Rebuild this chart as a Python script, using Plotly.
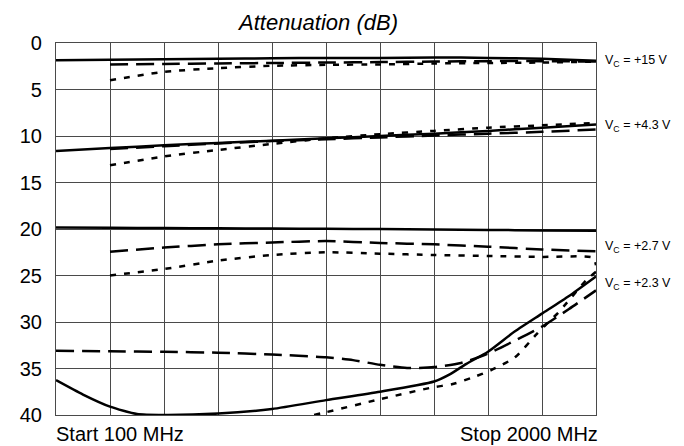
import plotly.graph_objects as go

# grid position (0..10 divisions) -> MHz, start 100 stop 2000
def mhz(g):
    return [100 + 190 * v for v in g]

G11 = [0, 1, 2, 3, 4, 5, 6, 7, 8, 9, 10]
G10 = [1, 2, 3, 4, 5, 6, 7, 8, 9, 10]

# Vc = +15 V
v15_solid = [1.85, 1.8, 1.75, 1.7, 1.65, 1.6, 1.6, 1.55, 1.6, 1.7, 1.9]
v15_long = [2.3, 2.25, 2.2, 2.15, 2.1, 2.05, 2.0, 1.95, 1.95, 2.0]
v15_short = [4.0, 3.1, 2.7, 2.45, 2.35, 2.3, 2.2, 2.15, 2.1, 2.0]

# Vc = +4.3 V
v43_solid = [11.6, 11.3, 11.0, 10.75, 10.5, 10.25, 10.0, 9.75, 9.45, 9.1, 8.75]
v43_long = [11.4, 11.1, 10.8, 10.55, 10.35, 10.15, 9.95, 9.75, 9.55, 9.3]
v43_short = [13.15, 12.2, 11.5, 10.85, 10.25, 9.8, 9.45, 9.1, 8.85, 8.6]

# Vc = +2.7 V
v27_solid = [19.85, 19.87, 19.9, 19.92, 19.95, 19.98, 20.0, 20.05, 20.1, 20.15, 20.2]
v27_long = [22.45, 22.0, 21.65, 21.45, 21.3, 21.5, 21.65, 21.9, 22.2, 22.4]
v27_short_g = [1, 2, 3, 4, 5, 6, 7, 8, 9, 9.95, 10]
v27_short = [25.0, 24.3, 23.4, 22.8, 22.5, 22.65, 22.8, 22.9, 23.0, 23.1, 23.9]

# Vc = +2.3 V
v23_solid_g = [0, 0.5, 1, 1.5, 2, 3, 4, 5, 6, 7, 7.3, 7.6, 8, 8.5, 9, 9.5, 10]
v23_solid = [36.25, 37.8, 39.1, 39.9, 40.0, 39.85, 39.35, 38.4, 37.5, 36.4, 35.6, 34.5,
             33.2, 31.0, 29.1, 27.2, 25.1]
v23_long_g = [0, 1, 2, 3, 4, 5, 5.5, 6, 6.5, 7, 7.5, 8, 8.5, 9, 9.5, 10]
v23_long = [33.1, 33.15, 33.2, 33.3, 33.5, 33.8, 34.1, 34.6, 34.95, 34.85, 34.4, 33.4,
            32.0, 30.5, 28.6, 26.6]
v23_short_g = [4.78, 5, 6, 7, 7.33, 7.7, 8.05, 8.5, 8.9, 9.07, 9.3, 9.45, 9.82, 10]
v23_short = [40.0, 39.7, 38.3, 37.0, 36.7, 36.0, 35.2, 33.8, 31.3, 30.3, 29.0, 28.0, 25.5, 24.6]

labels = ["V<sub>C</sub> = +15 V", "V<sub>C</sub> = +4.3 V",
          "V<sub>C</sub> = +2.7 V", "V<sub>C</sub> = +2.3 V"]
label_y = [1.95, 8.9, 21.9, 25.9]

FONT = "Liberation Sans Narrow, Arial Narrow, Liberation Sans, Arial, sans-serif"
LONG = "18px,8px"
SHORT = "6px,8px"

series = [
    (G11, v15_solid, "solid"), (G10, v15_long, LONG), (G10, v15_short, SHORT),
    (G11, v43_solid, "solid"), (G10, v43_long, LONG), (G10, v43_short, SHORT),
    (G11, v27_solid, "solid"), (G10, v27_long, LONG), (v27_short_g, v27_short, SHORT),
    (v23_solid_g, v23_solid, "solid"), (v23_long_g, v23_long, LONG),
    (v23_short_g, v23_short, SHORT),
]

fig = go.Figure()
for g, y, dash in series:
    fig.add_trace(go.Scatter(
        x=mhz(g), y=y, mode="lines",
        line=dict(color="black", width=2.5, dash=dash, shape="spline", smoothing=0.6),
        showlegend=False, hoverinfo="skip", cliponaxis=True,
    ))

for txt, yv in zip(labels, label_y):
    fig.add_annotation(x=1, xref="paper", y=yv, yref="y", text=txt, showarrow=False,
                       xanchor="left", xshift=7,
                       font=dict(family="Liberation Sans, Arial", size=12.5, color="black"))

fig.add_annotation(x=0.4836, xref="paper", y=1, yref="paper", yshift=7, borderpad=0,
                   text="<i>Attenuation (dB)</i>",
                   showarrow=False, xanchor="center", yanchor="bottom",
                   font=dict(family=FONT, size=22, color="black"))
fig.add_annotation(x=0, xref="paper", y=0, yref="paper", yshift=-19, text="Start 100 MHz",
                   showarrow=False, xanchor="left", yanchor="middle", xshift=-2,
                   font=dict(family=FONT, size=20, color="black"))
fig.add_annotation(x=1, xref="paper", y=0, yref="paper", yshift=-19, text="Stop 2000 MHz",
                   showarrow=False, xanchor="right", yanchor="middle", xshift=4,
                   font=dict(family=FONT, size=20, color="black"))

# the page body has an 8px margin, so the figure is sized/margined to compensate
fig.update_layout(
    width=676, height=438,
    margin=dict(l=40, r=88, t=35, b=31),
    paper_bgcolor="white", plot_bgcolor="white",
    font=dict(family=FONT, color="black"),
)
fig.update_xaxes(range=[100, 2000], tick0=100, dtick=190, showgrid=True, gridcolor="#4a4a4a",
                 gridwidth=1.2, showticklabels=False, showline=True, linecolor="#4a4a4a",
                 linewidth=1.2, mirror=True, zeroline=False, ticks="")
fig.update_yaxes(range=[40, 0], tick0=0, dtick=5, showgrid=True, gridcolor="#4a4a4a",
                 gridwidth=1.2, showline=True, linecolor="#4a4a4a", linewidth=1.2, mirror=True,
                 zeroline=False, ticks="", ticklabelstandoff=9,
                 tickfont=dict(family=FONT, size=20, color="black"))

fig.write_html("out.html")
